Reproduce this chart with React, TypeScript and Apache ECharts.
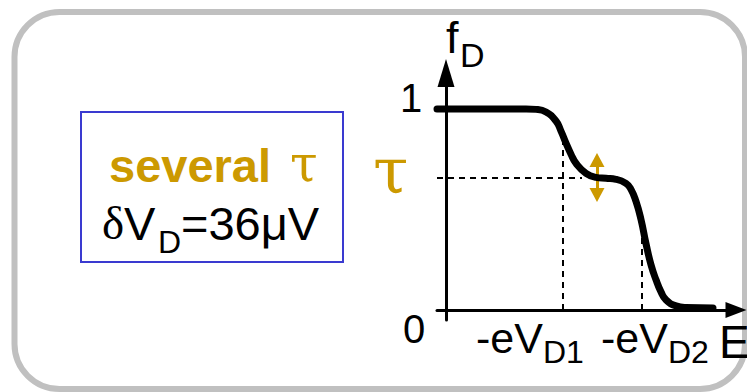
import React, { useEffect, useRef } from "react";
import * as echarts from "echarts";

// Energy (arbitrary units) and occupation f_D
const curveE = [-0.9, 4, 8, 9, 10, 11, 11.5, 12, 12.5, 13, 14, 15, 16, 17, 18, 18.5, 19, 19.5, 20, 20.5, 21, 21.5, 22, 23, 24, 26.7];
const curveF = [1.0, 1.0, 1.0, 0.998, 0.985, 0.94, 0.89, 0.83, 0.775, 0.73, 0.68, 0.66, 0.655, 0.65, 0.63, 0.6, 0.54, 0.45, 0.33, 0.225, 0.15, 0.09, 0.05, 0.02, 0.012, 0.01];

const tauLevel = 0.657;
const eVD1 = 11.7;
const eVD1Top = 0.87;
const eVD2 = 19.6;
const eVD2Top = 0.43;
const tauArrowE = 15.1;
const tauArrowLow = 0.572;
const tauArrowHigh = 0.746;
const dashEndE = 13.6;

const GOLD = "#cc9900";
const SANS = "'Liberation Sans', Arial, sans-serif";
const SERIF = "'DejaVu Serif', 'Liberation Serif', serif";

export default function App() {
  const ref = useRef<HTMLDivElement>(null);
  useEffect(() => {
    document.body.style.margin = "0";
    if (!ref.current) return;
    const chart = echarts.init(ref.current, null, { renderer: "svg" });
    const data = curveE.map((e, i) => [e, curveF[i]]);
    const txt = (text: string, x: number, y: number, size: number, opts: any = {}) => ({
      type: "text",
      x,
      y,
      style: {
        text,
        fontSize: size,
        fontFamily: SANS,
        fill: "#000",
        textAlign: "left",
        textVerticalAlign: "middle",
        ...opts,
      },
    });
    chart.setOption({
      animation: false,
      backgroundColor: "#fff",
      grid: { left: 437, right: 11, top: 73, bottom: 72 },
      xAxis: {
        type: "value",
        min: -0.9,
        max: 29.0,
        axisLine: {
          show: true,
          onZero: true,
          lineStyle: { color: "#000", width: 3 },
          symbol: ["none", "triangle"],
          symbolSize: [16, 21],
        },
        axisTick: { show: false },
        axisLabel: { show: false },
        splitLine: { show: false },
      },
      yAxis: {
        type: "value",
        min: -0.05,
        max: 1.179,
        axisLine: {
          show: true,
          onZero: true,
          lineStyle: { color: "#000", width: 3 },
          symbol: ["none", "triangle"],
          symbolSize: [17, 28],
        },
        axisTick: { show: false },
        axisLabel: { show: false },
        splitLine: { show: false },
      },
      series: [
        {
          type: "line",
          data,
          smooth: 0.5,
          showSymbol: false,
          symbol: "none",
          lineStyle: { color: "#000", width: 7, cap: "round", join: "round" },
          z: 5,
          markLine: {
            silent: true,
            symbol: "none",
            label: { show: false },
            lineStyle: { color: "#000", width: 2, type: [6, 5] },
            data: [
              [{ coord: [-0.9, tauLevel] }, { coord: [dashEndE, tauLevel] }],
              [{ coord: [eVD1, 0] }, { coord: [eVD1, eVD1Top] }],
              [{ coord: [eVD2, 0] }, { coord: [eVD2, eVD2Top] }],
            ],
          },
        },
        {
          type: "line",
          data: [],
          z: 6,
          markLine: {
            silent: true,
            symbol: ["triangle", "triangle"],
            symbolSize: [15, 14],
            label: { show: false },
            lineStyle: { color: GOLD, width: 3, type: "solid" },
            data: [[{ coord: [tauArrowE, tauArrowLow] }, { coord: [tauArrowE, tauArrowHigh] }]],
          },
        },
      ],
      graphic: [
        {
          type: "rect",
          shape: { x: 14.5, y: 12, width: 730.5, height: 377, r: 45 },
          style: { fill: "none", stroke: "#c0c0c0", lineWidth: 6 },
          z: 0,
        },
        {
          type: "rect",
          shape: { x: 81, y: 112, width: 262, height: 150 },
          style: { fill: "none", stroke: "#3a3ad0", lineWidth: 2 },
        },
        txt("several", 109, 165.7, 47, { fill: GOLD, fontWeight: "bold" }),
        txt("τ", 290, 164, 50, { fill: GOLD, fontFamily: SERIF }),
        txt("δ", 102, 223, 47, { fontFamily: "'Liberation Serif', serif" }),
        txt("V", 124, 223.7, 47),
        txt("D", 158, 242, 32),
        txt("=36μV", 181, 223.7, 47),
        txt("τ", 373, 171, 64, { fill: GOLD, fontFamily: SERIF }),
        txt("1", 411, 98, 40, { textAlign: "center" }),
        txt("0", 414, 329, 40, { textAlign: "center" }),
        txt("f", 446, 37.4, 45),
        txt("D", 460, 55, 34),
        txt("-eV", 476, 338, 43),
        txt("D1", 543, 352, 32),
        txt("-eV", 601, 338, 43),
        txt("D2", 668, 352, 32),
        txt("E", 719, 342, 46),
      ],
    });
    return () => chart.dispose();
  }, []);
  return <div ref={ref} style={{ width: 747, height: 392 }} />;
}
